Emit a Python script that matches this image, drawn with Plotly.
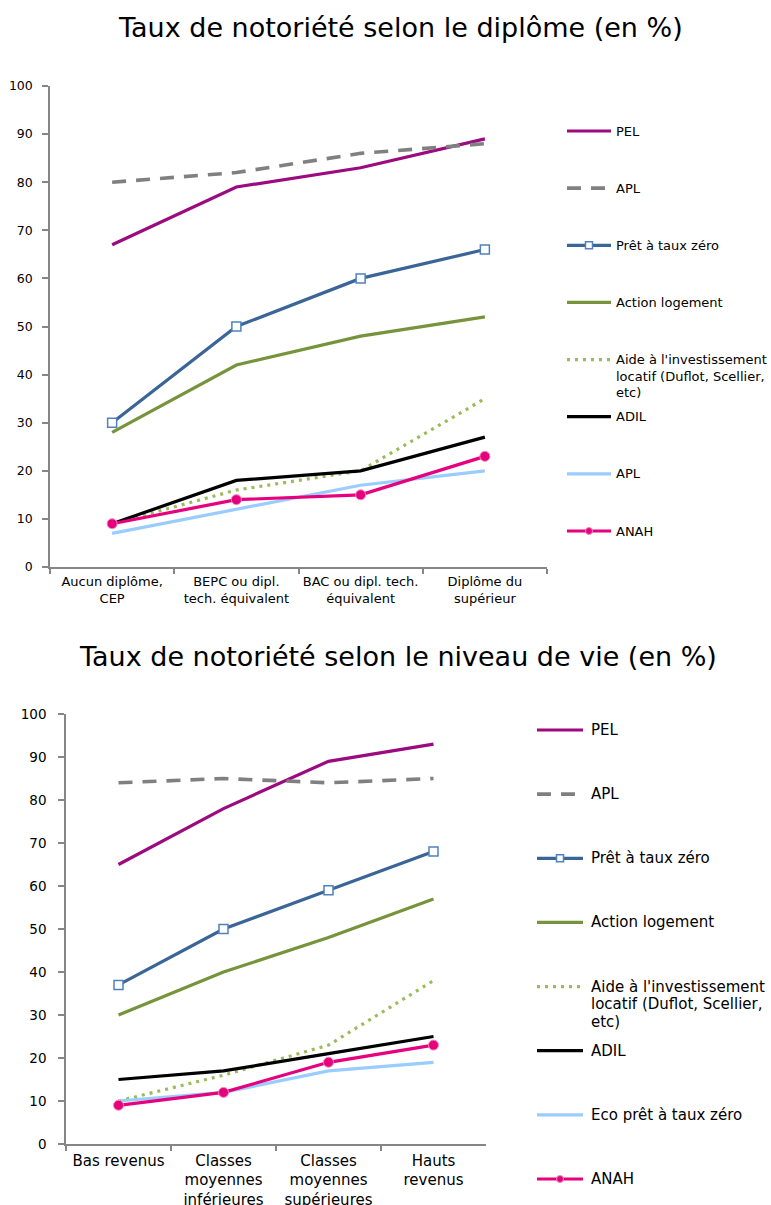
import plotly.graph_objects as go

W, H = 771, 1205
FONT = "DejaVu Sans, Verdana, sans-serif"

# ---- categories ----
diplomes = ["Aucun diplôme,<br>CEP", "BEPC ou dipl.<br>tech. équivalent",
            "BAC ou dipl. tech.<br>équivalent", "Diplôme du<br>supérieur"]
niveaux = ["Bas revenus", "Classes<br>moyennes<br>inférieures",
           "Classes<br>moyennes<br>supérieures", "Hauts<br>revenus"]

# ---- series names ----
noms_diplome = ["PEL", "APL", "Prêt à taux zéro", "Action logement",
                "Aide à l'investissement<br>locatif (Duflot, Scellier,<br>etc)",
                "ADIL", "APL", "ANAH"]
noms_niveau = ["PEL", "APL", "Prêt à taux zéro", "Action logement",
               "Aide à l'investissement<br>locatif (Duflot, Scellier,<br>etc)",
               "ADIL", "Eco prêt à taux zéro", "ANAH"]

# ---- values (%) by diploma ----
pel_d = [67, 79, 83, 89]
apl_d = [80, 82, 86, 88]
ptz_d = [30, 50, 60, 66]
action_d = [28, 42, 48, 52]
aide_d = [9, 16, 20, 35]
adil_d = [9, 18, 20, 27]
apl2_d = [7, 12, 17, 20]
anah_d = [9, 14, 15, 23]

# ---- values (%) by standard of living ----
pel_n = [65, 78, 89, 93]
apl_n = [84, 85, 84, 85]
ptz_n = [37, 50, 59, 68]
action_n = [30, 40, 48, 57]
aide_n = [10, 16, 23, 38]
adil_n = [15, 17, 21, 25]
eco_n = [10, 12, 17, 19]
anah_n = [9, 12, 19, 23]

serie_diplome = [pel_d, apl_d, ptz_d, action_d, aide_d, adil_d, apl2_d, anah_d]
serie_niveau = [pel_n, apl_n, ptz_n, action_n, aide_n, adil_n, eco_n, anah_n]

# ---- styles, one per series slot ----
styles = [
    dict(color="#9B0A7E", dash="solid", width=3.2, marker=None),
    dict(color="#808080", dash="14px,10px", width=3.6, marker=None),
    dict(color="#3A6597", dash="solid", width=3.2, marker="square"),
    dict(color="#77933C", dash="solid", width=3.2, marker=None),
    dict(color="#9BBB59", dash="3px,5px", width=3.2, marker=None),
    dict(color="#000000", dash="solid", width=3.2, marker=None),
    dict(color="#99CCFF", dash="solid", width=3.2, marker=None),
    dict(color="#E6007E", dash="solid", width=3.2, marker="circle"),
]


def marker_for(st):
    if st["marker"] == "square":
        return dict(symbol="square", size=9, color="white",
                    line=dict(color="#4F81BD", width=1.5))
    if st["marker"] == "circle":
        return dict(symbol="circle", size=10, color=st["color"],
                    line=dict(color="#F08CB8", width=1))
    return None


fig = go.Figure()

for cats, series, names, xa, ya in [
    (diplomes, serie_diplome, noms_diplome, "x", "y"),
    (niveaux, serie_niveau, noms_niveau, "x2", "y2"),
]:
    for vals, name, st in zip(series, names, styles):
        mk = marker_for(st)
        fig.add_trace(go.Scatter(
            x=cats, y=vals, name=name.replace("<br>", " "),
            xaxis=xa, yaxis=ya,
            mode="lines+markers" if mk else "lines",
            line=dict(color=st["color"], width=st["width"], dash=st["dash"]),
            marker=mk, showlegend=False, hoverinfo="x+y+name",
        ))


# ---- layout: two stacked panels in pixel-derived paper coordinates ----
def px_x(v):
    return v / W


def px_y(v):
    return 1 - v / H


axis_line = "#868686"


def xaxis_style(size, standoff):
    return dict(type="category", range=[-0.5, 3.5], showgrid=False,
                showline=True, linecolor=axis_line, linewidth=1.5,
                ticks="outside", tickson="boundaries", ticklen=5,
                tickcolor=axis_line, tickwidth=1.5, ticklabelstandoff=standoff,
                tickangle=0, automargin=False,
                tickfont=dict(family=FONT, size=size, color="#000000"),
                zeroline=False, fixedrange=True)


def yaxis_style(size, standoff):
    return dict(range=[0, 100], dtick=10, showgrid=False, showline=True,
                linecolor=axis_line, linewidth=1.5, ticks="outside",
                ticklen=6, tickcolor=axis_line, tickwidth=1.5,
                ticklabelstandoff=standoff, automargin=False,
                tickfont=dict(family=FONT, size=size, color="#000000"),
                zeroline=False, fixedrange=True)


top_box = dict(x0=50, x1=547, y0=86, y1=567)
bot_box = dict(x0=66, x1=486, y0=714, y1=1144)

fig.update_layout(
    width=W, height=H,
    margin=dict(l=0, r=0, t=0, b=0, autoexpand=False),
    paper_bgcolor="white", plot_bgcolor="white",
    font=dict(family=FONT, size=12, color="#000000"),
    xaxis=dict(xaxis_style(13, 2), domain=[px_x(top_box["x0"]), px_x(top_box["x1"])], anchor="y"),
    yaxis=dict(yaxis_style(12.5, 7), domain=[px_y(top_box["y1"]), px_y(top_box["y0"])], anchor="x"),
    xaxis2=dict(xaxis_style(15, 2), domain=[px_x(bot_box["x0"]), px_x(bot_box["x1"])], anchor="y2"),
    yaxis2=dict(yaxis_style(13.5, 9), domain=[px_y(bot_box["y1"]), px_y(bot_box["y0"])], anchor="x2"),
    showlegend=False,
)

annotations = [
    dict(text="Taux de notoriété selon le diplôme (en %)", x=px_x(400), y=px_y(27),
         xref="paper", yref="paper", xanchor="center", yanchor="middle",
         showarrow=False, font=dict(family=FONT, size=27, color="#000000")),
    dict(text="Taux de notoriété selon le niveau de vie (en %)", x=px_x(398), y=px_y(657),
         xref="paper", yref="paper", xanchor="center", yanchor="middle",
         showarrow=False, font=dict(family=FONT, size=27, color="#000000")),
]
shapes = []


# ---- legends drawn beside each panel ----
def add_legend(names, sw_x0, sw_x1, text_x, y_start, pitch, size, line_h):
    for i, (name, st) in enumerate(zip(names, styles)):
        yc = y_start + i * pitch
        shapes.append(dict(type="line", xref="paper", yref="paper",
                           x0=px_x(sw_x0), x1=px_x(sw_x1), y0=px_y(yc), y1=px_y(yc),
                           line=dict(color=st["color"], width=st["width"], dash=st["dash"])))
        xm = (sw_x0 + sw_x1) / 2
        if st["marker"] == "square":
            shapes.append(dict(type="rect", xref="paper", yref="paper",
                               x0=px_x(xm - 3.5), x1=px_x(xm + 3.5),
                               y0=px_y(yc - 3.5), y1=px_y(yc + 3.5),
                               fillcolor="white", line=dict(color="#4F81BD", width=1.5)))
        elif st["marker"] == "circle":
            shapes.append(dict(type="circle", xref="paper", yref="paper",
                               x0=px_x(xm - 3.5), x1=px_x(xm + 3.5),
                               y0=px_y(yc - 3.5), y1=px_y(yc + 3.5),
                               fillcolor=st["color"], line=dict(color="#F08CB8", width=1)))
        for k, line in enumerate(name.split("<br>")):
            annotations.append(dict(text=line, x=px_x(text_x), y=px_y(yc + k * line_h),
                                    xref="paper", yref="paper", xanchor="left",
                                    yanchor="middle", align="left", showarrow=False,
                                    font=dict(family=FONT, size=size, color="#000000")))


add_legend(noms_diplome, 567, 611, 614, 131, (531 - 131) / 7, 13, 16.5)
add_legend(noms_niveau, 537, 583, 589, 730, (1179 - 730) / 7, 15, 17.5)

fig.update_layout(annotations=annotations, shapes=shapes)

fig.write_html("out.html")
